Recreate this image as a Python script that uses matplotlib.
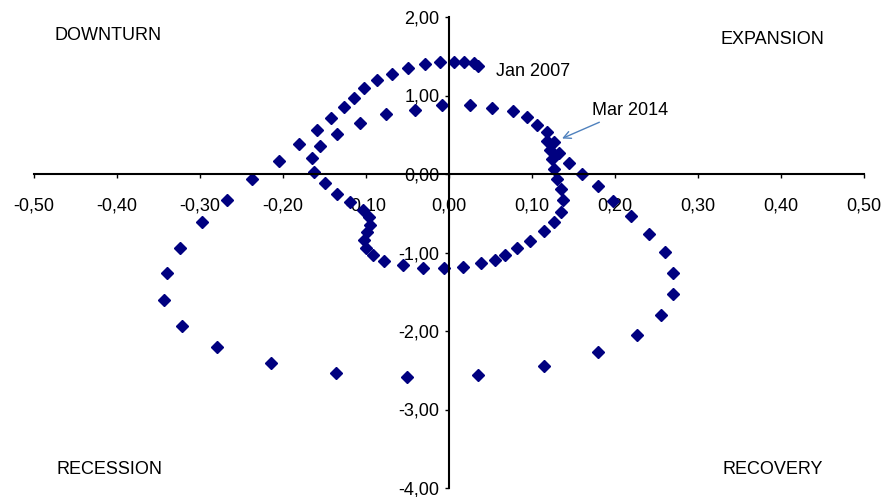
import matplotlib
matplotlib.use("Agg")
import matplotlib.pyplot as plt
from matplotlib.ticker import FuncFormatter, MultipleLocator

# monthly points, Jan 2007 .. Mar 2014 (x = change, y = level)
x_change = [0.035, 0.030, 0.018, 0.006, -0.011, -0.029, -0.049, -0.069, -0.087, -0.102,
            -0.114, -0.127, -0.142, -0.159, -0.181, -0.205, -0.237, -0.267, -0.298, -0.324,
            -0.340, -0.343, -0.322, -0.280, -0.215, -0.136, -0.051, 0.035, 0.114, 0.179,
            0.226, 0.256, 0.270, 0.270, 0.260, 0.241, 0.219, 0.197, 0.179, 0.160,
            0.144, 0.133, 0.118, 0.118, 0.106, 0.094, 0.077, 0.052, 0.025, -0.008,
            -0.041, -0.076, -0.107, -0.135, -0.155, -0.165, -0.163, -0.150, -0.135, -0.119,
            -0.104, -0.096, -0.095, -0.099, -0.103, -0.100, -0.092, -0.078, -0.056, -0.031,
            -0.006, 0.017, 0.038, 0.055, 0.067, 0.082, 0.098, 0.114, 0.126, 0.135,
            0.137, 0.135, 0.130, 0.127, 0.124, 0.122, 0.127]
y_level = [1.38, 1.41, 1.43, 1.43, 1.43, 1.40, 1.35, 1.28, 1.20, 1.09,
           0.97, 0.85, 0.71, 0.56, 0.38, 0.17, -0.06, -0.33, -0.61, -0.94,
           -1.26, -1.61, -1.93, -2.20, -2.41, -2.54, -2.59, -2.56, -2.45, -2.27,
           -2.05, -1.79, -1.53, -1.26, -0.99, -0.76, -0.54, -0.34, -0.15, 0.00,
           0.135, 0.27, 0.42, 0.53, 0.63, 0.73, 0.80, 0.84, 0.88, 0.88,
           0.82, 0.76, 0.65, 0.51, 0.36, 0.21, 0.03, -0.11, -0.25, -0.36,
           -0.46, -0.55, -0.65, -0.74, -0.84, -0.94, -1.03, -1.11, -1.16, -1.20,
           -1.20, -1.19, -1.14, -1.09, -1.03, -0.94, -0.85, -0.73, -0.61, -0.48,
           -0.33, -0.19, -0.07, 0.06, 0.19, 0.31, 0.41]

first_label = "Jan 2007"
last_label = "Mar 2014"
quadrants = ["DOWNTURN", "EXPANSION", "RECESSION", "RECOVERY"]


def comma(v, pos):
    return f"{v:.2f}".replace(".", ",")


def main():
    plt.rcParams["font.family"] = ["Liberation Sans", "DejaVu Sans"]
    plt.rcParams["font.size"] = 13

    W, H = 886, 497
    fig = plt.figure(figsize=(W / 100, H / 100), dpi=100)
    ax = fig.add_axes([34 / W, 9 / H, 830 / W, 471 / H])

    ax.plot(x_change, y_level, linestyle="none", marker="D", markersize=5.8,
            color="#000080", clip_on=False)

    ax.set_xlim(-0.5, 0.5)
    ax.set_ylim(-4, 2)
    ax.xaxis.set_major_locator(MultipleLocator(0.1))
    ax.yaxis.set_major_locator(MultipleLocator(1))
    ax.xaxis.set_major_formatter(FuncFormatter(comma))
    ax.yaxis.set_major_formatter(FuncFormatter(comma))

    # axes cross at the origin
    ax.spines["left"].set_position(("data", 0))
    ax.spines["bottom"].set_position(("data", 0))
    ax.spines["top"].set_visible(False)
    ax.spines["right"].set_visible(False)
    for s in ("left", "bottom"):
        ax.spines[s].set_linewidth(1.5)
    ax.tick_params(axis="x", direction="out", length=3, width=1, pad=14)
    ax.tick_params(axis="y", direction="out", length=3, width=1, pad=4)

    # labels on first and last month
    ax.annotate(first_label, xy=(x_change[0], y_level[0]), xytext=(13, -4),
                textcoords="offset points", ha="left", va="center")
    ax.annotate(last_label, xy=(x_change[-1], y_level[-1]), xytext=(0.172, 0.81),
                textcoords="data", ha="left", va="center",
                arrowprops=dict(arrowstyle="->", color="#4f81bd", lw=1,
                                shrinkA=1, shrinkB=6, relpos=(0.2, 0.0)))

    # quadrant names (placed in figure pixels)
    fig.text(55 / W, 1 - 35.5 / H, quadrants[0], va="center")
    fig.text(720 / W, 1 - 39.5 / H, quadrants[1], va="center")
    fig.text(56 / W, 1 - 469 / H, quadrants[2], va="center")
    fig.text(723 / W, 1 - 469 / H, quadrants[3], va="center")

    fig.savefig("out.png", dpi=100)


if __name__ == "__main__":
    main()
